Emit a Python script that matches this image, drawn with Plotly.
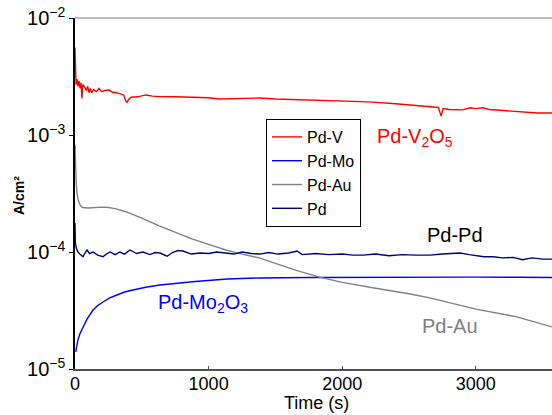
import plotly.graph_objects as go

# ---------------- data ----------------
pdv_t = [0, 3, 8, 15, 22, 30, 38, 45, 52, 58, 70, 85, 95, 105, 115, 125, 140, 160, 180, 200,
         225, 255, 280, 310, 340, 365, 380, 390, 400, 420, 470, 530, 580, 630, 750, 880, 1000,
         1080, 1200, 1380, 1500, 1650, 1800, 2000, 2200, 2400, 2600, 2720, 2740, 2755, 2800,
         2900, 2960, 3000, 3050, 3100, 3230, 3350, 3460, 3570]
pdv_i = [5.6e-3, 3.0e-3, 2.7e-3, 3.0e-3, 2.6e-3, 2.9e-3, 2.5e-3, 2.8e-3, 2.05e-3, 2.7e-3,
         2.6e-3, 2.4e-3, 2.6e-3, 2.3e-3, 2.5e-3, 2.3e-3, 2.45e-3, 2.35e-3, 2.5e-3, 2.35e-3,
         2.4e-3, 2.42e-3, 2.32e-3, 2.3e-3, 2.25e-3, 2.2e-3, 1.95e-3, 1.9e-3, 2.0e-3, 2.1e-3,
         2.12e-3, 2.2e-3, 2.15e-3, 2.13e-3, 2.12e-3, 2.1e-3, 2.08e-3, 2.03e-3, 2.05e-3, 2.07e-3,
         2.03e-3, 2.01e-3, 2.0e-3, 1.97e-3, 1.92e-3, 1.85e-3, 1.77e-3, 1.72e-3, 1.45e-3, 1.68e-3,
         1.65e-3, 1.64e-3, 1.71e-3, 1.68e-3, 1.71e-3, 1.65e-3, 1.61e-3, 1.57e-3, 1.54e-3, 1.54e-3]

pdmo_t = [5, 15, 22, 37, 60, 90, 135, 172, 210, 260, 314, 370, 434, 530, 636, 760, 900, 1140,
          1380, 1750, 2200, 2600, 3000, 3300, 3570]
pdmo_i = [1.40e-5, 1.6e-5, 1.77e-5, 2.0e-5, 2.29e-5, 2.67e-5, 3.19e-5, 3.5e-5, 3.74e-5,
          4.05e-5, 4.29e-5, 4.55e-5, 4.73e-5, 5.0e-5, 5.22e-5, 5.42e-5, 5.6e-5, 5.88e-5,
          6.0e-5, 6.05e-5, 6.1e-5, 6.12e-5, 6.1e-5, 6.08e-5, 6.05e-5]

pdau_t = [0, 3, 8, 15, 25, 40, 55, 100, 150, 200, 250, 300, 380, 500, 630, 750, 880, 1000,
          1130, 1250, 1380, 1500, 1650, 1830, 2000, 2250, 2500, 2655, 3000, 3300, 3570]
pdau_i = [8.2e-4, 5.5e-4, 4.1e-4, 3.2e-4, 2.75e-4, 2.5e-4, 2.4e-4, 2.38e-4, 2.4e-4, 2.42e-4,
          2.4e-4, 2.35e-4, 2.21e-4, 1.95e-4, 1.67e-4, 1.47e-4, 1.29e-4, 1.16e-4, 1.04e-4,
          9.6e-5, 8.9e-5, 8.0e-5, 7.0e-5, 6.1e-5, 5.5e-5, 4.9e-5, 4.4e-5, 4.05e-5, 3.25e-5,
          2.8e-5, 2.29e-5]

pd_t = [0, 3, 10, 22, 40, 60, 75, 90, 110, 135, 170, 210, 235, 262, 300, 337, 370, 412, 460,
        509, 560, 600, 636, 689, 730, 770, 808, 870, 936, 1000, 1060, 1138, 1190, 1250, 1320,
        1385, 1450, 1520, 1600, 1662, 1700, 1800, 1900, 2000, 2080, 2156, 2250, 2350, 2450,
        2550, 2657, 2750, 2882, 2950, 3000, 3060, 3129, 3200, 3280, 3350, 3420, 3500, 3570]
pd_i = [1.77e-4, 1.19e-4, 1.08e-4, 1.0e-4, 9.5e-5, 9.1e-5, 9.8e-5, 1.04e-4, 9.7e-5, 1.0e-4,
        9.4e-5, 9.1e-5, 9.6e-5, 1.0e-4, 9.5e-5, 1.0e-4, 9.6e-5, 1.04e-4, 9.7e-5, 1.0e-4, 9.5e-5,
        9.9e-5, 9.8e-5, 9.2e-5, 9.9e-5, 1.03e-4, 1.02e-4, 9.6e-5, 9.8e-5, 9.7e-5, 1.0e-4, 9.8e-5,
        9.6e-5, 1.0e-4, 9.7e-5, 9.6e-5, 9.9e-5, 9.6e-5, 9.8e-5, 1.02e-4, 9.5e-5, 9.7e-5,
        9.5e-5, 9.6e-5, 9.4e-5, 9.4e-5, 9.6e-5, 9.3e-5, 9.5e-5, 9.4e-5, 9.4e-5, 9.6e-5, 9.8e-5,
        9.5e-5, 9.3e-5, 9.1e-5, 9.1e-5, 8.9e-5, 9.0e-5, 8.6e-5, 8.9e-5, 8.7e-5, 8.7e-5]

series_names = ["Pd-V", "Pd-Mo", "Pd-Au", "Pd"]
series_colors = ["#ff0000", "#0000ff", "#808080", "#000080"]

x_ticks = [0, 1000, 2000, 3000]
y_ticks = [1e-5, 1e-4, 1e-3, 1e-2]
y_tick_text = ["10<sup>−5</sup>", "10<sup>−4</sup>", "10<sup>−3</sup>", "10<sup>−2</sup>"]

labels = ["Pd-V<sub>2</sub>O<sub>5</sub>", "Pd-Pd", "Pd-Mo<sub>2</sub>O<sub>3</sub>", "Pd-Au"]
label_colors = ["#ff0000", "#000000", "#0000ff", "#808080"]

# ---------------- layout geometry ----------------
W, H = 552, 415
L, T, B, R = 75, 18, 46, 0
PW, PH = W - L - R, H - T - B


def px(x):
    return (x - L) / PW


def py(y):
    return 1 - (y - T) / PH


FONT = "Arial, Liberation Sans, sans-serif"

fig = go.Figure()
data = [(pdv_t, pdv_i), (pdmo_t, pdmo_i), (pdau_t, pdau_i), (pd_t, pd_i)]
for (t, i), name, col in zip(data, series_names, series_colors):
    fig.add_trace(go.Scatter(x=t, y=i, name=name, mode="lines",
                             line=dict(color=col, width=1.4)))

label_pos = [(415, 137), (455, 235), (203, 303), (450, 326)]
for txt, col, (ax, ay) in zip(labels, label_colors, label_pos):
    fig.add_annotation(text=txt, x=px(ax), y=py(ay), xref="paper", yref="paper",
                       showarrow=False, xanchor="center", yanchor="middle",
                       font=dict(family=FONT, size=20, color=col))

fig.add_annotation(text="<b>A/cm²</b>", x=px(19), y=py(196), xref="paper", yref="paper",
                   showarrow=False, textangle=-90, xanchor="center", yanchor="middle",
                   font=dict(family=FONT, size=14, color="black"))
fig.add_annotation(text="Time (s)", x=px(316), y=py(415), xref="paper", yref="paper",
                   showarrow=False, xanchor="center", yanchor="bottom",
                   font=dict(family=FONT, size=18, color="black"))

fig.add_shape(type="line", xref="paper", yref="paper", x0=0, x1=1, y0=1, y1=1,
              line=dict(color="#808080", width=1))

fig.update_layout(
    width=W, height=H,
    margin=dict(l=L, r=R, t=T, b=B, pad=0),
    paper_bgcolor="white", plot_bgcolor="white",
    font=dict(family=FONT, color="black"),
    showlegend=True,
    legend=dict(x=px(266), y=py(119), xanchor="left", yanchor="top",
                bgcolor="white", bordercolor="black", borderwidth=1,
                font=dict(family=FONT, size=16, color="black"),
                itemwidth=30, tracegroupgap=0),
    xaxis=dict(range=[0, 3570], tickvals=x_ticks, showgrid=False, zeroline=False,
               showline=True, linecolor="#505050", linewidth=2,
               ticks="inside", ticklen=3, tickcolor="#505050", ticklabelstandoff=-3,
               tickfont=dict(family=FONT, size=18, color="black")),
    yaxis=dict(type="log", range=[-5, -2], tickvals=y_ticks, ticktext=y_tick_text,
               showgrid=False, zeroline=False, showline=True, linecolor="black",
               linewidth=1.5, ticks="outside", ticklen=4, tickcolor="black",
               tickfont=dict(family=FONT, size=20, color="black")),
)

fig.write_html("out.html")
